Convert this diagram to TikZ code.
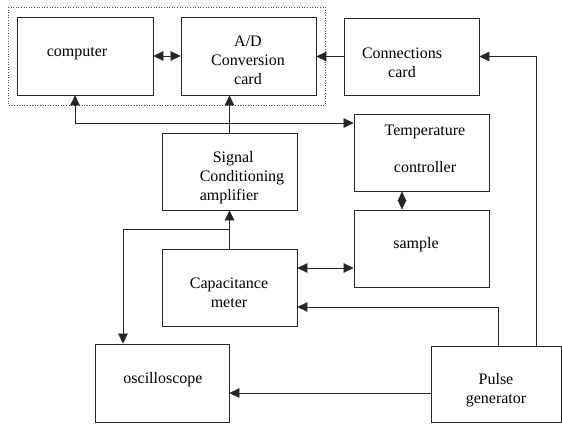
\documentclass[tikz,border=0pt]{standalone}
\usepackage{fontspec}
\setmainfont{Liberation Serif}
\usetikzlibrary{arrows.meta}
\begin{document}
\begin{tikzpicture}[x=1pt,y=-1pt,
  box/.style={draw=black!85,line width=0.7pt,inner sep=0pt,rectangle},
  txt/.style={font=\fontsize{16}{19}\selectfont,inner sep=0pt,align=center},
  conn/.style={draw=black!85,line width=0.65pt},
  arr/.style={conn,-{Triangle[length=10pt,width=9.5pt]}},
  arrtwo/.style={conn,{Triangle[length=10pt,width=9.5pt]}-{Triangle[length=10pt,width=9.5pt]}},
  dia/.style={conn,{Triangle[length=9.5pt,width=8.5pt]}-{Triangle[length=9.5pt,width=8.5pt]}}]
\useasboundingbox (0,0) rectangle (562,424);
% dotted frame
\draw[black!70,dotted,line width=0.6pt] (8,7) rectangle (325,105);
% boxes
\node[box,minimum width=136pt,minimum height=78pt] (comp) at (85,56) {};
\node[box,minimum width=135pt,minimum height=78pt] (ad) at (248.5,56) {};
\node[box,minimum width=135pt,minimum height=77pt] (cc) at (411.5,56.5) {};
\node[box,minimum width=135pt,minimum height=77pt] (temp) at (421.5,152.5) {};
\node[box,minimum width=135pt,minimum height=77pt] (sample) at (421.5,248.5) {};
\node[box,minimum width=135pt,minimum height=77pt] (sig) at (229.5,171.5) {};
\node[box,minimum width=135pt,minimum height=77pt] (cap) at (229.5,287.5) {};
\node[box,minimum width=134pt,minimum height=78pt] (osc) at (162,383) {};
\node[box,minimum width=130pt,minimum height=76pt] (pulse) at (496,384) {};
% texts
\node[txt] (compt) at (77,54) {computer};
\node[txt] (adt) at (248,60) {A/D\\Conversion\\card};
\node[txt] (cct) at (402,63) {Connections\\card};
\node[txt,align=left] (sigt) at (242,178) {\hspace{13pt}Signal\\Conditioning\\amplifier};
\node[txt] (tempt) at (425,149) {Temperature\\[18pt]controller};
\node[txt] (samplet) at (416,245) {sample};
\node[txt] (capt) at (229,293) {Capacitance\\meter};
\node[txt] (osct) at (163,380) {oscilloscope};
\node[txt] (pulset) at (496,390) {Pulse\\generator};
% connectors
\draw[arrtwo] (comp.east) -- (ad.west);
\draw[arr] (cc.west) -- (cc.west -| ad.east);
\draw[arr] ([xshift=40pt]pulse.north) |- (cc.east);
\coordinate (pc) at ([yshift=-19.5pt]cap.east);
\draw[arr] ([xshift=2pt]pulse.north) |- (pc);
\coordinate (po) at ([yshift=-9pt]pulse.west);
\draw[arr] (po) -- (po -| osc.east);
\draw[arrtwo] ([xshift=-10pt]comp.south) |- ([yshift=29.5pt]temp.west);
\draw[arr] (sig.north) -- (ad.south -| sig.north);
\draw[arr] (cap.north) -- (sig.south);
\coordinate (br) at ([yshift=19pt]cap.north);
\draw[arr] (br) -| ([xshift=-39pt]osc.north);
\coordinate (cs) at ([yshift=19.5pt]cap.east);
\draw[arrtwo] (cs) -- (cs -| sample.west);
\draw[dia] ([xshift=-19.5pt]temp.south) -- ([xshift=-19.5pt]sample.north);
\end{tikzpicture}
\end{document}
